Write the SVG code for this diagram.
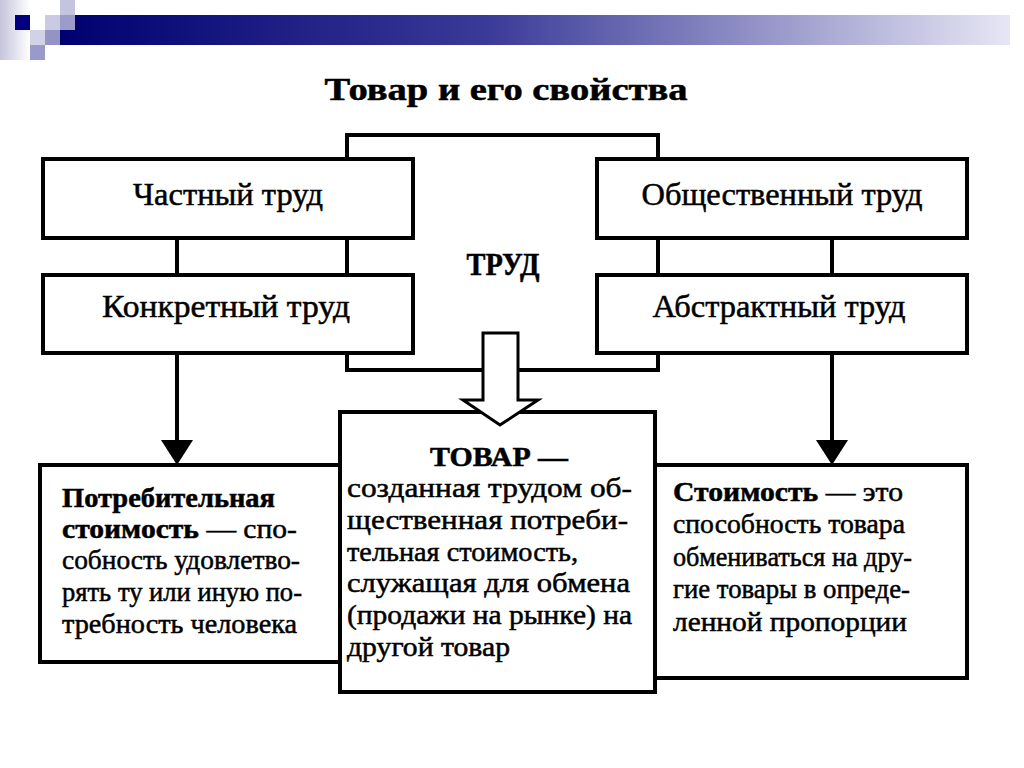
<svg xmlns="http://www.w3.org/2000/svg" width="1024" height="768" viewBox="0 0 1024 768">
<defs>
<linearGradient id="bar" x1="0" y1="0" x2="1" y2="0">
<stop offset="0" stop-color="#000070"/>
<stop offset="0.45" stop-color="#3a3a98"/>
<stop offset="1" stop-color="#e6e6f4"/>
</linearGradient>
<linearGradient id="strip" x1="0" y1="0" x2="1" y2="0">
<stop offset="0" stop-color="#c4c4dc"/>
<stop offset="1" stop-color="#ffffff"/>
</linearGradient>
<style>
.box{fill:#fff;stroke:#000;stroke-width:4}
.ln{stroke:#000;stroke-width:4;fill:none}
.head{fill:#000}
.lbl{font-family:"Liberation Serif","Times New Roman",serif;font-size:31px;fill:#000;stroke:#000;stroke-width:0.5}
.tx{font-family:"Liberation Serif","Times New Roman",serif;font-size:27px;fill:#000;stroke:#000;stroke-width:0.5}
.b{font-weight:bold}
</style>
</defs>
<rect width="1024" height="768" fill="#fff"/>
<g id="decoration">
<rect x="0" y="0" width="30" height="60" fill="url(#strip)"/>
<rect x="60" y="15" width="950" height="30" fill="url(#bar)"/>
<rect x="15" y="15" width="15" height="15" fill="#000080"/>
<rect x="60" y="0" width="15" height="15" fill="#c4c4de"/>
<rect x="45" y="15" width="15" height="15" fill="#cacae2"/>
<rect x="60" y="15" width="15" height="15" fill="#9c9cca"/>
<rect x="30" y="30" width="15" height="15" fill="#d2d2e6"/>
<rect x="45" y="30" width="15" height="15" fill="#9494c4"/>
<rect x="30" y="45" width="15" height="15" fill="#9a9aca"/>
</g>
<text id="title" x="506" y="100" text-anchor="middle" class="lbl b" font-size="30" textLength="363" lengthAdjust="spacingAndGlyphs">Товар и его свойства</text>
<g id="trud">
<rect x="347" y="135" width="311" height="235" class="ln"/>
<text x="503" y="275" text-anchor="middle" class="lbl b" font-size="26" textLength="73" lengthAdjust="spacingAndGlyphs">ТРУД</text>
</g>
<g id="connectors">
<line x1="177" y1="238" x2="177" y2="275" class="ln"/>
<line x1="832" y1="238" x2="832" y2="275" class="ln"/>
<line x1="177" y1="353" x2="177" y2="442" class="ln"/>
<polygon points="161,440 193,440 177,465" class="head"/>
<line x1="832" y1="353" x2="832" y2="442" class="ln"/>
<polygon points="816,440 848,440 832,465" class="head"/>
</g>
<g id="chastny">
<rect x="43" y="159" width="370" height="79" class="box"/>
<text x="228" y="205" text-anchor="middle" class="lbl" textLength="190" lengthAdjust="spacingAndGlyphs">Частный труд</text>
</g>
<g id="konkretny">
<rect x="43" y="275" width="370" height="78" class="box"/>
<text x="226" y="317" text-anchor="middle" class="lbl" textLength="248" lengthAdjust="spacingAndGlyphs">Конкретный труд</text>
</g>
<g id="obshchestvenny">
<rect x="597" y="159" width="370" height="79" class="box"/>
<text x="782" y="205" text-anchor="middle" class="lbl" textLength="281" lengthAdjust="spacingAndGlyphs">Общественный труд</text>
</g>
<g id="abstraktny">
<rect x="597" y="275" width="370" height="78" class="box"/>
<text x="779" y="317" text-anchor="middle" class="lbl" textLength="253" lengthAdjust="spacingAndGlyphs">Абстрактный труд</text>
</g>
<g id="potrebitelnaya">
<rect x="40" y="465" width="300" height="197" class="box"/>
<text class="tx" x="62" y="507"><tspan class="b" textLength="213" lengthAdjust="spacingAndGlyphs">Потребительная</tspan></text>
<text class="tx" x="62" y="538" textLength="235" lengthAdjust="spacingAndGlyphs"><tspan class="b">стоимость</tspan> — спо-</text>
<text class="tx" x="62" y="569" textLength="238" lengthAdjust="spacingAndGlyphs">собность удовлетво-</text>
<text class="tx" x="62" y="601" textLength="240" lengthAdjust="spacingAndGlyphs">рять ту или иную по-</text>
<text class="tx" x="62" y="633" textLength="235" lengthAdjust="spacingAndGlyphs">требность человека</text>
</g>
<g id="stoimost">
<rect x="655" y="465" width="312" height="213" class="box"/>
<text class="tx" x="673" y="501" textLength="230" lengthAdjust="spacingAndGlyphs"><tspan class="b">Стоимость</tspan> — это</text>
<text class="tx" x="673" y="533" textLength="232" lengthAdjust="spacingAndGlyphs">способность товара</text>
<text class="tx" x="673" y="566" textLength="239" lengthAdjust="spacingAndGlyphs">обмениваться на дру-</text>
<text class="tx" x="673" y="598" textLength="237" lengthAdjust="spacingAndGlyphs">гие товары в опреде-</text>
<text class="tx" x="673" y="631" textLength="234" lengthAdjust="spacingAndGlyphs">ленной пропорции</text>
</g>
<g id="tovar">
<rect x="340" y="412" width="315" height="280" class="box"/>
<text class="tx b" x="499" y="466" text-anchor="middle" textLength="138" lengthAdjust="spacingAndGlyphs">ТОВАР —</text>
<text class="tx" x="347" y="497" textLength="285" lengthAdjust="spacingAndGlyphs">созданная трудом об-</text>
<text class="tx" x="347" y="529" textLength="281" lengthAdjust="spacingAndGlyphs">щественная потреби-</text>
<text class="tx" x="347" y="561" textLength="231" lengthAdjust="spacingAndGlyphs">тельная стоимость,</text>
<text class="tx" x="347" y="592" textLength="283" lengthAdjust="spacingAndGlyphs">служащая для обмена</text>
<text class="tx" x="347" y="624" textLength="285" lengthAdjust="spacingAndGlyphs">(продажи на рынке) на</text>
<text class="tx" x="347" y="656" textLength="163" lengthAdjust="spacingAndGlyphs">другой товар</text>
</g>
<g id="block-arrow">
<polygon points="483,333 518,333 518,400 538,400 500,425 463,400 483,400" fill="#fff" stroke="#000" stroke-width="3" stroke-linejoin="miter"/>
</g>
</svg>
